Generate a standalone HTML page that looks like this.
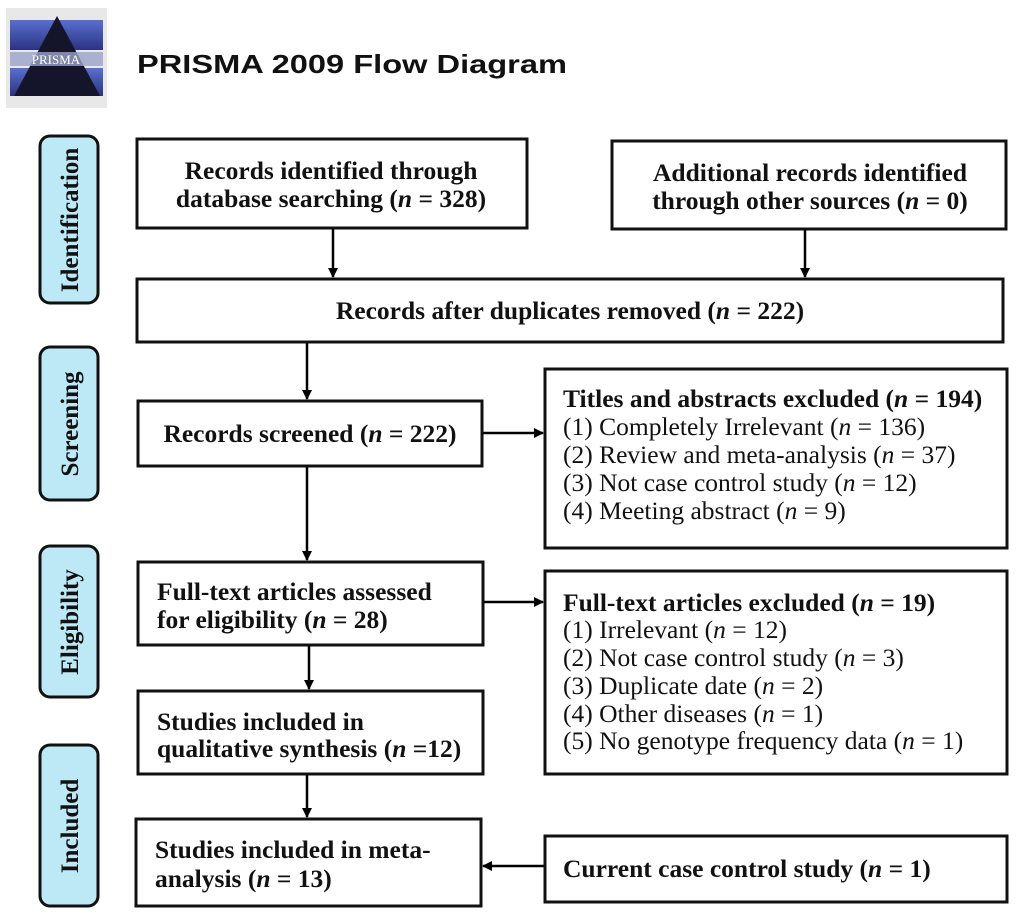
<!DOCTYPE html>
<html><head><meta charset="utf-8"><style>
html,body{margin:0;padding:0;background:#fff;width:1024px;height:923px;overflow:hidden}
svg{display:block}
.b{font-family:"Liberation Serif",serif;font-weight:bold;font-size:25.5px;fill:#111}
.r{font-family:"Liberation Serif",serif;font-size:25.5px;fill:#111}
.pl{font-family:"Liberation Serif",serif;font-weight:bold;font-size:25px;fill:#111}
</style></head><body>
<svg width="1024" height="923" viewBox="0 0 1024 923" xmlns="http://www.w3.org/2000/svg">
<defs>
<marker id="a" markerWidth="10" markerHeight="10" refX="9" refY="5" orient="auto" markerUnits="userSpaceOnUse">
<path d="M0,0 L10,5 L0,10 z" fill="#000"/></marker>
<linearGradient id="lg" x1="0" y1="0" x2="0" y2="1"><stop offset="0" stop-color="#5a6fd0"/><stop offset="1" stop-color="#2a3380"/></linearGradient>
</defs>
<rect x="6" y="8" width="101" height="100" fill="#e8e8e8"/>
<rect x="10" y="20" width="93" height="30" fill="url(#lg)"/>
<rect x="10" y="68" width="93" height="28" fill="url(#lg)"/>
<polygon points="57,16 14,96 100,96" fill="#14142a"/>
<rect x="10" y="52" width="93" height="14" fill="#9aa3c8" opacity="0.8"/>
<text x="56" y="64" text-anchor="middle" font-family="Liberation Serif,serif" font-size="13" fill="#fff">PRISMA</text>
<text x="137" y="73" font-family="Liberation Sans,sans-serif" font-weight="bold" font-size="26" textLength="430" lengthAdjust="spacingAndGlyphs" fill="#111">PRISMA 2009 Flow Diagram</text>

<g fill="#bde9f7" stroke="#111" stroke-width="3">
<rect x="40" y="136" width="58" height="167" rx="10"/>
<rect x="40" y="347" width="58" height="153" rx="10"/>
<rect x="40" y="546" width="58" height="151" rx="10"/>
<rect x="40" y="745" width="58" height="161" rx="10"/>
</g>
<text class="pl" transform="translate(78,220) rotate(-90)" text-anchor="middle">Identification</text>
<text class="pl" transform="translate(78,424) rotate(-90)" text-anchor="middle">Screening</text>
<text class="pl" transform="translate(78,622) rotate(-90)" text-anchor="middle">Eligibility</text>
<text class="pl" transform="translate(78,826) rotate(-90)" text-anchor="middle">Included</text>

<g fill="#fff" stroke="#111" stroke-width="3">
<rect x="137" y="139" width="390" height="89"/>
<rect x="612" y="141" width="394" height="88"/>
<rect x="137" y="279" width="866" height="63"/>
<rect x="138" y="401" width="344" height="65"/>
<rect x="545" y="369" width="462" height="179"/>
<rect x="138" y="562" width="345" height="83"/>
<rect x="545" y="571" width="462" height="203"/>
<rect x="138" y="691" width="345" height="83"/>
<rect x="136" y="819" width="345" height="87"/>
<rect x="545" y="836" width="462" height="66"/>
</g>

<g stroke="#000" stroke-width="2.5" marker-end="url(#a)">
<line x1="333" y1="229" x2="333" y2="277"/>
<line x1="805" y1="230" x2="805" y2="277"/>
<line x1="307" y1="343" x2="307" y2="399"/>
<line x1="483" y1="433" x2="543" y2="433"/>
<line x1="307" y1="467" x2="307" y2="560"/>
<line x1="484" y1="602" x2="543" y2="602"/>
<line x1="309" y1="646" x2="309" y2="689"/>
<line x1="307" y1="775" x2="307" y2="817"/>
<line x1="544" y1="866" x2="483" y2="866"/>
</g>

<text class="b" x="331" y="179" text-anchor="middle">Records identified through</text>
<text class="b" x="331" y="207" text-anchor="middle">database searching (<tspan font-style="italic">n</tspan> = 328)</text>
<text class="b" x="810" y="181" text-anchor="middle">Additional records identified</text>
<text class="b" x="810" y="209" text-anchor="middle">through other sources (<tspan font-style="italic">n</tspan> = 0)</text>
<text class="b" x="570" y="319" text-anchor="middle">Records after duplicates removed (<tspan font-style="italic">n</tspan> = 222)</text>
<text class="b" x="310" y="442" text-anchor="middle">Records screened (<tspan font-style="italic">n</tspan> = 222)</text>

<text class="b" x="563" y="407">Titles and abstracts excluded (<tspan font-style="italic">n</tspan> = 194)</text>
<text class="r" x="563" y="435">(1) Completely Irrelevant (<tspan font-style="italic">n</tspan> = 136)</text>
<text class="r" x="563" y="463">(2) Review and meta-analysis (<tspan font-style="italic">n</tspan> = 37)</text>
<text class="r" x="563" y="491">(3) Not case control study (<tspan font-style="italic">n</tspan> = 12)</text>
<text class="r" x="563" y="519">(4) Meeting abstract (<tspan font-style="italic">n</tspan> = 9)</text>

<text class="b" x="157" y="600">Full-text articles assessed</text>
<text class="b" x="157" y="628">for eligibility (<tspan font-style="italic">n</tspan> = 28)</text>

<text class="b" x="563" y="611">Full-text articles excluded (<tspan font-style="italic">n</tspan> = 19)</text>
<text class="r" x="563" y="638">(1) Irrelevant (<tspan font-style="italic">n</tspan> = 12)</text>
<text class="r" x="563" y="666">(2) Not case control study (<tspan font-style="italic">n</tspan> = 3)</text>
<text class="r" x="563" y="694">(3) Duplicate date (<tspan font-style="italic">n</tspan> = 2)</text>
<text class="r" x="563" y="722">(4) Other diseases (<tspan font-style="italic">n</tspan> = 1)</text>
<text class="r" x="563" y="749">(5) No genotype frequency data (<tspan font-style="italic">n</tspan> = 1)</text>

<text class="b" x="157" y="730">Studies included in</text>
<text class="b" x="157" y="757">qualitative synthesis (<tspan font-style="italic">n</tspan> =12)</text>
<text class="b" x="155" y="858">Studies included in meta-</text>
<text class="b" x="155" y="887">analysis (<tspan font-style="italic">n</tspan> = 13)</text>
<text class="b" x="563" y="877">Current case control study (<tspan font-style="italic">n</tspan> = 1)</text>
</svg>
</body></html>
